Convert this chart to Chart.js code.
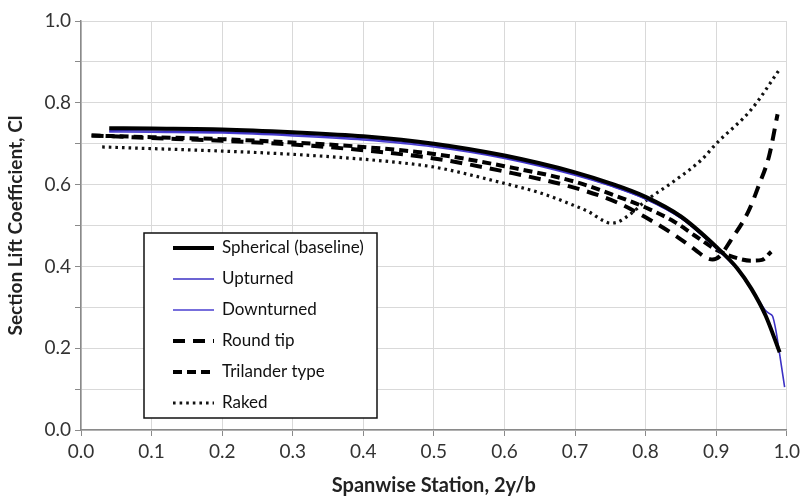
<!DOCTYPE html>
<html>
<head>
<meta charset="utf8">
<title>Section Lift Coefficient</title>
<script src="https://cdn.jsdelivr.net/npm/chart.js@4.4.1/dist/chart.umd.min.js"></script>
<style>
  html,body{margin:0;padding:0;background:#fff}
  #box{width:804px;height:502px}
</style>
</head>
<body>
<div id="box"><canvas id="LiftChart" width="804" height="502"></canvas></div>
<script>
// spanwise stations (2y/b) and section Cl for each wingtip
var sphX = [0.04,0.1,0.2,0.3,0.4,0.5,0.6,0.7,0.75,0.8,0.85,0.9,0.93,0.95,0.97,0.99];
var sphY = [0.738,0.737,0.735,0.728,0.718,0.700,0.671,0.630,0.603,0.570,0.522,0.448,0.395,0.345,0.28,0.19];

var upX = [0.04,0.1,0.2,0.3,0.4,0.5,0.6,0.7,0.75,0.8,0.85,0.9,0.93,0.95,0.96,0.97,0.975,0.98,0.985,0.99,0.997];
var upY = [0.732,0.731,0.729,0.722,0.712,0.695,0.666,0.625,0.598,0.565,0.518,0.444,0.392,0.343,0.318,0.292,0.285,0.278,0.24,0.185,0.105];

var downX = [0.04,0.1,0.2,0.3,0.4,0.5,0.6,0.7,0.75,0.8,0.85,0.9,0.93,0.95,0.97,0.99];
var downY = [0.729,0.728,0.726,0.719,0.709,0.692,0.664,0.623,0.597,0.565,0.518,0.445,0.393,0.343,0.278,0.19];

var roundX = [0.015,0.1,0.2,0.3,0.4,0.5,0.6,0.7,0.76,0.8,0.84,0.87,0.885,0.895,0.905,0.92,0.945,0.96,0.975,0.987];
var roundY = [0.72,0.714,0.707,0.698,0.684,0.664,0.632,0.592,0.556,0.52,0.478,0.441,0.422,0.417,0.425,0.462,0.532,0.596,0.67,0.772];

var triX = [0.015,0.1,0.2,0.3,0.4,0.5,0.6,0.7,0.76,0.8,0.84,0.87,0.9,0.93,0.95,0.965,0.978];
var triY = [0.72,0.716,0.711,0.703,0.692,0.675,0.645,0.607,0.571,0.544,0.51,0.475,0.441,0.42,0.414,0.416,0.436];

var rakedX = [0.03,0.1,0.2,0.3,0.4,0.45,0.5,0.6,0.65,0.7,0.72,0.74,0.75,0.76,0.78,0.8,0.84,0.88,0.9,0.95,0.99];
var rakedY = [0.692,0.688,0.682,0.674,0.662,0.654,0.643,0.603,0.58,0.548,0.533,0.512,0.506,0.508,0.53,0.56,0.608,0.662,0.70,0.784,0.882];

var seriesNames = ["Spherical (baseline)","Upturned","Downturned","Round tip","Trilander type","Raked"];

function pts(xs, ys){
    var out = [];
    for (var i = 0; i < xs.length; i++) out.push({x: xs[i], y: ys[i]});
    return out;
}

var FONT = "Lato, 'DejaVu Sans Condensed', sans-serif";

// legend drawn inside the plot, like the original box
var boxLegend = {
    id: 'boxLegend',
    afterDatasetsDraw: function(chart){
        var ctx = chart.ctx;
        var bx = 144, by = 233, bw = 233, bh = 185;
        ctx.save();
        ctx.fillStyle = '#fff';
        ctx.fillRect(bx, by, bw, bh);
        ctx.lineWidth = 1.5;
        ctx.strokeStyle = '#111';
        ctx.strokeRect(bx, by, bw, bh);
        ctx.font = '17px ' + FONT;
        ctx.textBaseline = 'middle';
        chart.data.datasets.forEach(function(ds, i){
            var y = 248 + i * 31;
            ctx.beginPath();
            ctx.setLineDash(ds.borderDash || []);
            ctx.lineWidth = ds.borderWidth;
            ctx.strokeStyle = ds.borderColor;
            ctx.moveTo(173, y);
            ctx.lineTo(214, y);
            ctx.stroke();
            ctx.setLineDash([]);
            ctx.fillStyle = '#111';
            ctx.fillText(ds.label, 222, y);
        });
        ctx.restore();
    }
};

window.onload = function(){
    new Chart(document.getElementById("LiftChart"), {
        type: 'line',
        data: {
            datasets: [{
                label: seriesNames[0],
                data: pts(sphX, sphY),
                borderColor: "#000",
                borderWidth: 4
            },
            {
                label: seriesNames[1],
                data: pts(upX, upY),
                borderColor: "#3b30c4",
                borderWidth: 1.6
            },
            {
                label: seriesNames[2],
                data: pts(downX, downY),
                borderColor: "#4a3fd0",
                borderWidth: 1.6
            },
            {
                label: seriesNames[3],
                data: pts(roundX, roundY),
                borderColor: "#000",
                borderWidth: 4,
                borderDash: [12, 8]
            },
            {
                label: seriesNames[4],
                data: pts(triX, triY),
                borderColor: "#000",
                borderWidth: 4,
                borderDash: [9, 5]
            },
            {
                label: seriesNames[5],
                data: pts(rakedX, rakedY),
                borderColor: "#111",
                borderWidth: 3.2,
                borderDash: [2.6, 4]
            }]
        },
        options: {
            responsive: false,
            animation: false,
            events: [],
            layout: {padding: {top: 21, right: 13, left: 0, bottom: 0}},
            elements: {
                point: {radius: 0},
                line: {cubicInterpolationMode: 'monotone', fill: false}
            },
            plugins: {
                legend: {display: false},
                tooltip: {enabled: false},
                title: {display: false}
            },
            scales: {
                x: {
                    type: 'linear',
                    min: 0, max: 1,
                    afterFit: function(s){ s.height = 72; },
                    grid: {color: '#d9d9d9', lineWidth: 1, tickLength: 6, tickColor: '#8a8a8a'},
                    border: {color: '#8a8a8a', width: 1.5},
                    ticks: {
                        stepSize: 0.1,
                        padding: 4,
                        color: '#333',
                        font: {family: FONT, size: 19},
                        callback: function(v){ return v.toFixed(1); }
                    },
                    title: {
                        display: true,
                        text: 'Spanwise Station, 2y/b',
                        color: '#222',
                        font: {family: FONT, size: 20, weight: 'bold'},
                        padding: {top: 9}
                    }
                },
                y: {
                    min: 0, max: 1,
                    afterFit: function(s){ s.width = 81; },
                    grid: {color: '#d9d9d9', lineWidth: 1, tickLength: 6, tickColor: '#8a8a8a'},
                    border: {color: '#8a8a8a', width: 1.5},
                    ticks: {
                        stepSize: 0.1,
                        padding: 4,
                        color: '#333',
                        font: {family: FONT, size: 19},
                        callback: function(v){
                            return Math.round(v * 10) % 2 === 0 ? v.toFixed(1) : '';
                        }
                    },
                    title: {
                        display: true,
                        text: 'Section Lift Coefficient, Cl',
                        color: '#222',
                        font: {family: FONT, size: 19, weight: 'bold'},
                        padding: {bottom: 4}
                    }
                }
            }
        },
        plugins: [boxLegend]
    });
};
</script>
</body>
</html>
